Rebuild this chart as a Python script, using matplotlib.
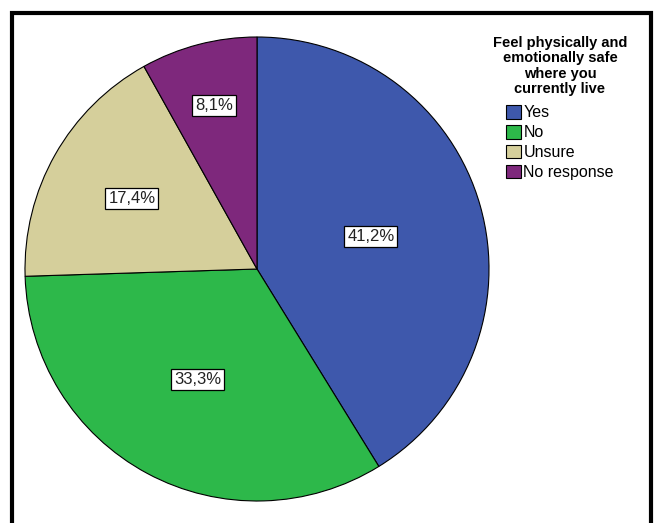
import numpy as np
import matplotlib.pyplot as plt
from matplotlib.patches import Rectangle, Patch
from matplotlib.font_manager import FontProperties

categories = ["Yes", "No", "Unsure", "No response"]
percents = [41.2, 33.3, 17.4, 8.1]
colors = ["#3e58ac", "#2db84a", "#d5cf9b", "#7e287c"]
label_dist = [0.51, 0.54, 0.62, 0.73]
legend_title = "Feel physically and\nemotionally safe\nwhere you\ncurrently live"

W, H = 654, 523
fig = plt.figure(figsize=(W / 100, H / 100), dpi=100)
fig.patch.set_facecolor("white")

# pie axes: centre (257, 269) px from top-left, radius 232 px
cx, cy, r = 257, 269, 232
ax = fig.add_axes([(cx - r) / W, (H - cy - r) / H, 2 * r / W, 2 * r / H])
wedges, _ = ax.pie(percents, colors=colors, startangle=90, counterclock=False,
                   radius=1.0, wedgeprops=dict(edgecolor="black", linewidth=0.8))
ax.set_xlim(-1, 1)
ax.set_ylim(-1, 1)
ax.set_aspect("equal")
ax.axis("off")

lab_font = ["Liberation Sans Narrow", "Liberation Sans", "DejaVu Sans"]
for w, p, d in zip(wedges, percents, label_dist):
    mid = np.deg2rad((w.theta1 + w.theta2) / 2)
    ax.text(d * np.cos(mid), d * np.sin(mid), f"{p:.1f}%".replace(".", ","),
            ha="center", va="center", fontsize=12, family=lab_font,
            color="#222222",
            bbox=dict(boxstyle="square,pad=0.18", facecolor="white",
                      edgecolor="black", linewidth=0.9))

# legend heading drawn separately so the gap below it can be set freely
fig.text(560 / W, 1 - 36 / H, legend_title, ha="center", va="top",
         multialignment="center", linespacing=1.12,
         family="Liberation Sans", weight="bold", fontsize=10.5)

handles = [Patch(facecolor=c, edgecolor="black", linewidth=0.8) for c in colors]
leg = fig.legend(handles, categories, loc="upper center",
                 bbox_to_anchor=(560 / W, 1 - 105 / H), frameon=False,
                 prop=FontProperties(family="Liberation Sans", size=11.5),
                 handlelength=0.95, handleheight=0.95, handletextpad=0.12,
                 labelspacing=0.28, borderpad=0, borderaxespad=0)

# outer frame, open at the bottom edge of the image
fig.add_artist(Rectangle((11.5 / W, -0.05), (651 - 11.5) / W, 1.05 - 12.5 / H,
                         transform=fig.transFigure, fill=False,
                         edgecolor="black", linewidth=3))

fig.savefig("out.png", dpi=100)
